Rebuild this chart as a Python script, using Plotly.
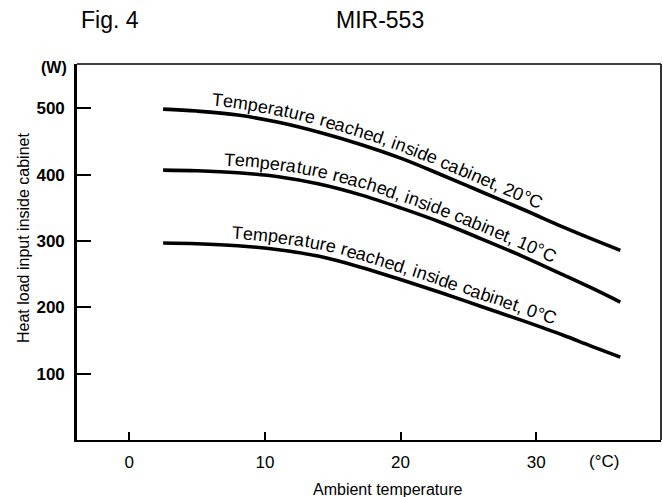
import numpy as np
import plotly.graph_objects as go

# Ambient temperature (°C) sampled along each curve
ambient_c = [2.5, 5, 8, 11, 14, 17, 20, 23, 26, 29, 32, 34, 36.2]

# Heat load input inside cabinet (W) for each cabinet temperature reached
load_20c = [499, 496, 490, 479, 464, 446, 425, 400, 374, 348, 321, 304, 286]
load_10c = [407, 406, 403, 397, 386, 370, 350, 328, 303, 277, 249, 230, 208]
load_0c = [297, 296, 293, 287, 277, 261, 242, 222, 201, 180, 158, 142, 125]

curve_labels = [
    "Temperature reached, inside cabinet, 20°C",
    "Temperature reached, inside cabinet, 10°C",
    "Temperature reached, inside cabinet, 0°C",
]

x_ticks = [0, 10, 20, 30]
y_ticks = [100, 200, 300, 400, 500]

# ---- layout geometry -------------------------------------------------------
FIG_W, FIG_H = 663, 497
M_L, M_R, M_T, M_B = 77, 2, 64, 57
PLOT_W = FIG_W - M_L - M_R
PLOT_H = FIG_H - M_T - M_B
X_RANGE = [-3.85, 39.2]
Y_RANGE = [0, 567]

# where each curve label begins (°C along the curve) and its size
label_start_c = [6.0, 6.9, 7.5]
LABEL_SIZE = 18
LABEL_GAP = 12.5  # px from curve centre to text centre

FONT = "Liberation Sans, Arial, Helvetica, sans-serif"

# Helvetica advance widths (1/1000 em)
ADV = {
    " ": 278, "T": 611, "e": 556, "m": 833, "p": 556, "r": 333, "a": 556,
    "t": 278, "u": 556, "c": 500, "h": 556, "d": 556, ",": 278, "i": 222,
    "n": 556, "s": 500, "b": 556, "0": 556, "1": 556, "2": 556, "°": 400,
    "C": 722,
}


def to_px(x, y):
    px = M_L + (np.asarray(x, float) - X_RANGE[0]) / (X_RANGE[1] - X_RANGE[0]) * PLOT_W
    py = M_T + PLOT_H - (np.asarray(y, float) - Y_RANGE[0]) / (Y_RANGE[1] - Y_RANGE[0]) * PLOT_H
    return px, py


def to_data(px, py):
    x = X_RANGE[0] + (px - M_L) / PLOT_W * (X_RANGE[1] - X_RANGE[0])
    y = Y_RANGE[0] + (M_T + PLOT_H - py) / PLOT_H * (Y_RANGE[1] - Y_RANGE[0])
    return x, y


def catmull_rom(px, py, n=40):
    pts = np.column_stack([px, py])
    pts = np.vstack([pts[0], pts, pts[-1]])
    out = []
    for i in range(1, len(pts) - 2):
        p0, p1, p2, p3 = pts[i - 1], pts[i], pts[i + 1], pts[i + 2]
        for t in np.linspace(0, 1, n, endpoint=False):
            t2, t3 = t * t, t * t * t
            out.append(0.5 * ((2 * p1) + (-p0 + p2) * t
                              + (2 * p0 - 5 * p1 + 4 * p2 - p3) * t2
                              + (-p0 + 3 * p1 - 3 * p2 + p3) * t3))
    out.append(pts[-2])
    out = np.array(out)
    return out[:, 0], out[:, 1]


def text_along_curve(xs, ys, text, start_x):
    """Per-character annotations that follow the curve, above it."""
    px, py = to_px(xs, ys)
    cx, cy = catmull_rom(px, py)
    seg = np.hypot(np.diff(cx), np.diff(cy))
    s = np.concatenate([[0], np.cumsum(seg)])
    sx0, _ = to_px(start_x, 0)
    s_pos = np.interp(sx0, cx, s)
    anns = []
    for ch in text:
        w = ADV.get(ch, 556) / 1000 * LABEL_SIZE
        if ch != " ":
            sc = s_pos + w / 2
            x0 = np.interp(sc, s, cx)
            y0 = np.interp(sc, s, cy)
            xa, ya = np.interp(sc - 6, s, cx), np.interp(sc - 6, s, cy)
            xb, yb = np.interp(sc + 6, s, cx), np.interp(sc + 6, s, cy)
            ang = np.arctan2(yb - ya, xb - xa)
            nx, ny = np.sin(ang), -np.cos(ang)
            tx, ty = x0 + nx * LABEL_GAP, y0 + ny * LABEL_GAP
            dx, dy = to_data(tx, ty)
            anns.append(dict(
                x=float(dx), y=float(dy), xref="x", yref="y", text=ch,
                showarrow=False, xanchor="center", yanchor="middle",
                textangle=float(np.degrees(ang)),
                font=dict(family=FONT, size=LABEL_SIZE, color="black"),
            ))
        s_pos += w
    return anns


fig = go.Figure()

series = [load_20c, load_10c, load_0c]
annotations = []
for loads, label, start in zip(series, curve_labels, label_start_c):
    fig.add_trace(go.Scatter(
        x=ambient_c, y=loads, mode="lines",
        line=dict(color="black", width=3.6, shape="spline", smoothing=1.0),
        hoverinfo="skip", showlegend=False,
    ))
    annotations += text_along_curve(ambient_c, loads, label, start)

# Headings, axis captions and unit labels
annotations += [
    dict(text="Fig. 4", x=(110 - M_L) / PLOT_W, y=(M_T + PLOT_H - 20) / PLOT_H,
         xref="paper", yref="paper", showarrow=False, xanchor="center", yanchor="middle",
         font=dict(family=FONT, size=23, color="black")),
    dict(text="MIR-553", x=(380 - M_L) / PLOT_W, y=(M_T + PLOT_H - 20) / PLOT_H,
         xref="paper", yref="paper", showarrow=False, xanchor="center", yanchor="middle",
         font=dict(family=FONT, size=23, color="black")),
    dict(text="(W)", x=(54 - M_L) / PLOT_W, y=(M_T + PLOT_H - 68) / PLOT_H,
         xref="paper", yref="paper", showarrow=False, xanchor="center", yanchor="middle",
         font=dict(family=FONT, size=16, color="black", weight="bold")),
    dict(text="Heat load input inside cabinet", x=(23 - M_L) / PLOT_W,
         y=(M_T + PLOT_H - 238) / PLOT_H, xref="paper", yref="paper", textangle=-90,
         showarrow=False, xanchor="center", yanchor="middle",
         font=dict(family=FONT, size=16, color="black")),
    dict(text="Ambient temperature", x=(388 - M_L) / PLOT_W,
         y=(M_T + PLOT_H - 489) / PLOT_H, xref="paper", yref="paper",
         showarrow=False, xanchor="center", yanchor="middle",
         font=dict(family=FONT, size=16, color="black")),
    dict(text="(°C)", x=35, y=(M_T + PLOT_H - 461) / PLOT_H, xref="x", yref="paper",
         showarrow=False, xanchor="center", yanchor="middle",
         font=dict(family=FONT, size=17, color="black")),
]

# Thin top and right frame edges
shapes = [
    dict(type="line", xref="paper", yref="paper", x0=0, x1=1, y0=1, y1=1,
         line=dict(color="black", width=1.6)),
    dict(type="line", xref="paper", yref="paper", x0=1, x1=1, y0=0, y1=1,
         line=dict(color="black", width=1.6)),
]

fig.update_layout(
    width=FIG_W, height=FIG_H,
    margin=dict(l=M_L, r=M_R, t=M_T, b=M_B, autoexpand=False),
    paper_bgcolor="white", plot_bgcolor="white",
    annotations=annotations, shapes=shapes,
    showlegend=False,
)
fig.update_xaxes(
    range=X_RANGE, showgrid=False, zeroline=False,
    showline=True, linecolor="black", linewidth=2.2,
    ticks="inside", ticklen=8, tickwidth=1.5, tickcolor="black",
    tickvals=x_ticks, ticktext=[str(v) for v in x_ticks],
    tickfont=dict(family=FONT, size=17, color="black"),
    ticklabelstandoff=5,
)
fig.update_yaxes(
    range=Y_RANGE, showgrid=False, zeroline=False,
    showline=True, linecolor="black", linewidth=2.6,
    ticks="inside", ticklen=14, tickwidth=2, tickcolor="black",
    tickvals=y_ticks, ticktext=[str(v) for v in y_ticks],
    tickfont=dict(family=FONT, size=17, color="black", weight="bold"),
    ticklabelstandoff=6,
)

fig.write_html("out.html")
